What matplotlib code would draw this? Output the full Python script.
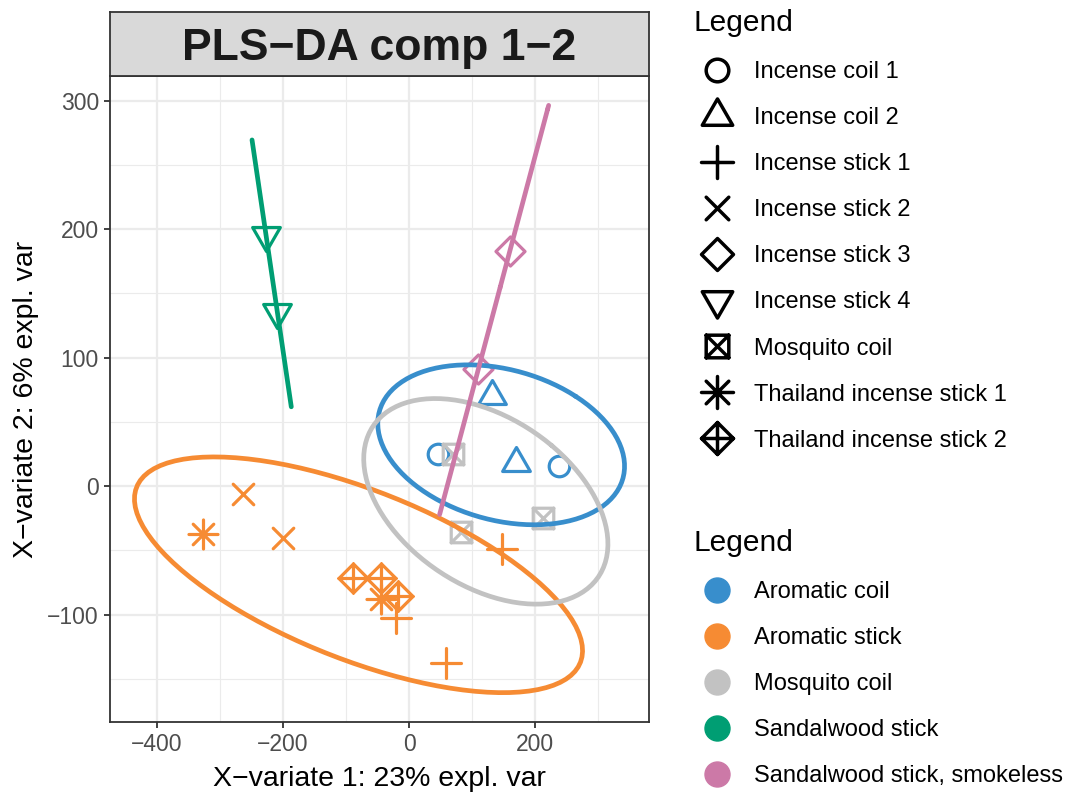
import numpy as np
import matplotlib.pyplot as plt
from matplotlib.path import Path
from matplotlib.lines import Line2D
from matplotlib.markers import MarkerStyle

plt.rcParams['font.family'] = ['Liberation Sans', 'DejaVu Sans']

# class (colour) groups
groups = ['Aromatic coil', 'Aromatic stick', 'Mosquito coil',
          'Sandalwood stick', 'Sandalwood stick, smokeless']
group_colors = ['#388ECC', '#F68B33', '#C2C2C2', '#009E73', '#CC79A7']

# products (shape) and the group each one belongs to
products = ['Incense coil 1', 'Incense coil 2', 'Incense stick 1', 'Incense stick 2',
            'Incense stick 3', 'Incense stick 4', 'Mosquito coil',
            'Thailand incense stick 1', 'Thailand incense stick 2']
product_group = ['Aromatic coil', 'Aromatic coil', 'Aromatic stick', 'Aromatic stick',
                 'Sandalwood stick, smokeless', 'Sandalwood stick', 'Mosquito coil',
                 'Aromatic stick', 'Aromatic stick']
product_pch = ['circle', 'tri_up', 'plus', 'cross', 'diamond', 'tri_down',
               'box_x', 'asterisk', 'diamond_plus']

# scores on component 1 and 2, one list per product
comp1 = [[46, 238], [131.7, 169], [147, -20, 58], [-264, -200],
         [110, 160], [-227, -209], [70.5, 213, 82], [-327, -45], [-89, -44, -18]]
comp2 = [[24.8, 15.8], [69.8, 18], [-49, -103, -137.5], [-6.5, -40.6],
         [91, 183], [195.5, 135.5], [25.3, -25, -36], [-37, -88], [-71.6, -71.6, -85.7]]

R_PT = 7.4  # R symbol radius in points


def pch_path(kind):
    s2 = np.sqrt(2)
    tr = np.sqrt(4 * np.pi / (3 * np.sqrt(3)))
    M, L, C = Path.MOVETO, Path.LINETO, Path.CLOSEPOLY
    if kind == 'circle':
        return Path.unit_circle(), 1.0
    if kind in ('tri_up', 'tri_down'):
        sg = 1 if kind == 'tri_up' else -1
        v = [(0, sg * tr), (tr * 0.866, -sg * tr / 2), (-tr * 0.866, -sg * tr / 2), (0, 0)]
        return Path(v, [M, L, L, C]), tr
    if kind == 'plus':
        v = [(-s2, 0), (s2, 0), (0, -s2), (0, s2)]
        return Path(v, [M, L, M, L]), s2
    if kind == 'cross':
        v = [(-1, -1), (1, 1), (-1, 1), (1, -1)]
        return Path(v, [M, L, M, L]), 1.0
    if kind == 'diamond':
        v = [(s2, 0), (0, s2), (-s2, 0), (0, -s2), (0, 0)]
        return Path(v, [M, L, L, L, C]), s2
    if kind == 'box_x':
        v = [(-1, -1), (1, -1), (1, 1), (-1, 1), (0, 0),
             (-1, -1), (1, 1), (-1, 1), (1, -1)]
        return Path(v, [M, L, L, L, C, M, L, M, L]), 1.0
    if kind == 'asterisk':
        v = [(-1, -1), (1, 1), (-1, 1), (1, -1), (-s2, 0), (s2, 0), (0, -s2), (0, s2)]
        return Path(v, [M, L, M, L, M, L, M, L]), s2
    if kind == 'diamond_plus':
        v = [(s2, 0), (0, s2), (-s2, 0), (0, -s2), (0, 0),
             (-s2, 0), (s2, 0), (0, -s2), (0, s2)]
        return Path(v, [M, L, L, L, C, M, L, M, L]), s2


def marker(kind, r=R_PT):
    p, ext = pch_path(kind)
    return MarkerStyle(p, capstyle='round', joinstyle='round'), 2 * ext * r


def conf_ellipse(x, y, n=100):
    # 95% normal ellipse as in ellipse::ellipse (chi-square, 2 df)
    t = np.sqrt(-2 * np.log(0.05))
    cov = np.cov(x, y)
    sx, sy = np.sqrt(np.diag(cov))
    r = np.clip(cov[0, 1] / (sx * sy), -1, 1)
    d = np.arccos(r)
    a = np.linspace(0, 2 * np.pi, n)
    return (t * sx * np.cos(a + d / 2) + np.mean(x),
            t * sy * np.cos(a - d / 2) + np.mean(y))


W, H = 1072, 801
fig = plt.figure(figsize=(W / 100, H / 100), dpi=100)
pl, pr, pt, pb = 110, 649, 76, 722
ax = fig.add_axes([pl / W, 1 - pb / H, (pr - pl) / W, (pb - pt) / H])

# points
for name, g, kind, xs, ys in zip(products, product_group, product_pch, comp1, comp2):
    m, ms = marker(kind)
    ax.plot(xs, ys, ls='none', marker=m, ms=ms, mfc='none',
            mec=group_colors[groups.index(g)], mew=2.3, zorder=3)

# ellipses per group
allx, ally = [], []
for g, col in zip(groups, group_colors):
    gx = np.concatenate([xs for xs, pg in zip(comp1, product_group) if pg == g])
    gy = np.concatenate([ys for ys, pg in zip(comp2, product_group) if pg == g])
    ex, ey = conf_ellipse(gx, gy)
    if len(gx) == 2:
        # two samples: the ellipse collapses to a segment, draw it once
        order = np.argsort(ex)
        ex, ey = ex[order], ey[order]
    ax.plot(ex, ey, color=col, lw=3.4, zorder=4, solid_capstyle='round')
    allx += [ex, gx]
    ally += [ey, gy]

allx = np.concatenate(allx)
ally = np.concatenate(ally)
dx = 0.05 * (allx.max() - allx.min())
dy = 0.05 * (ally.max() - ally.min())
ax.set_xlim(allx.min() - dx, allx.max() + dx)
ax.set_ylim(ally.min() - dy, ally.max() + dy)

ax.set_xticks([-400, -200, 0, 200])
ax.set_yticks([-100, 0, 100, 200, 300])
ax.set_xticks([-300, -100, 100, 300], minor=True)
ax.set_yticks([-150, -50, 50, 150, 250], minor=True)
ax.grid(which='major', color='#EBEBEB', lw=1.6, zorder=0)
ax.grid(which='minor', color='#EBEBEB', lw=0.8, zorder=0)
ax.set_axisbelow(True)
ax.tick_params(which='major', length=4, width=1.3, color='#333333',
               labelsize=16.5, labelcolor='#4D4D4D', pad=4)
ax.tick_params(which='minor', length=0)
for s in ax.spines.values():
    s.set_color('#333333')
    s.set_linewidth(1.3)
ax.set_xlabel('X\u2212variate 1: 23% expl. var', fontsize=20.5, labelpad=7)
ax.set_ylabel('X\u2212variate 2: 6% expl. var', fontsize=20.5, labelpad=6)

# facet strip
sax = fig.add_axes([pl / W, 1 - pt / H, (pr - pl) / W, (pt - 12) / H])
sax.set_facecolor('#D9D9D9')
sax.set_xticks([])
sax.set_yticks([])
for s in sax.spines.values():
    s.set_color('#333333')
    s.set_linewidth(1.3)
sax.text(0.5, 0.43, 'PLS\u2212DA comp 1\u22122', transform=sax.transAxes,
         ha='center', va='center', fontsize=32, fontweight='bold', color='#1A1A1A')

# legends
fs = 17
leg_kw = dict(title='Legend', loc='upper left', frameon=False, fontsize=fs,
              title_fontsize=21.5, alignment='left', borderpad=0, borderaxespad=0,
              handlelength=1.95, handletextpad=0.6, labelspacing=1.02)
shape_handles = []
for kind in product_pch:
    m, ms = marker(kind, R_PT * 1.1)
    shape_handles.append(Line2D([], [], ls='none', marker=m, ms=ms, mfc='none',
                                mec='black', mew=2.5))
fig.legend(shape_handles, products, bbox_to_anchor=(694 / W, 1 - 9 / H), **leg_kw)
color_handles = [Line2D([], [], ls='none', marker='o', ms=18, mfc=c, mec=c)
                 for c in group_colors]
fig.legend(color_handles, groups, bbox_to_anchor=(694 / W, 1 - 529 / H), **leg_kw)

fig.savefig('out.png', dpi=100)
